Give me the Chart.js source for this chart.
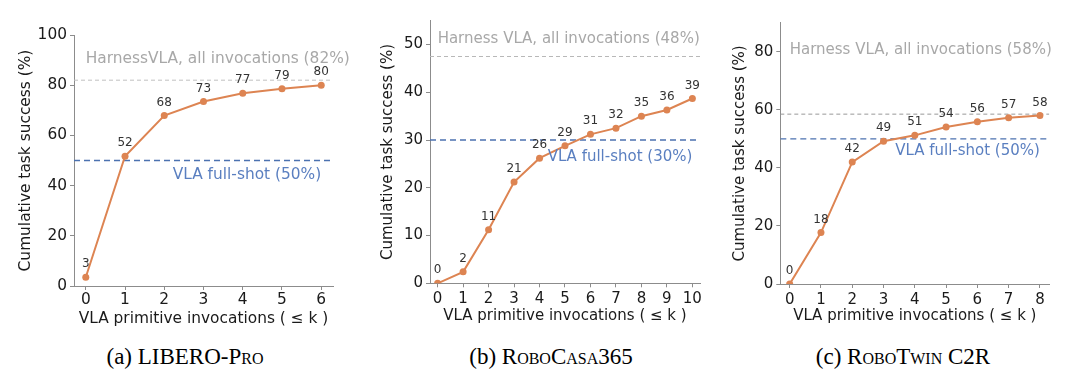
<!DOCTYPE html>
<html lang="en">
  <head>
    <meta charset="UTF-8" />
    <title>Cumulative task success vs VLA invocations</title>
    <script src="https://cdn.jsdelivr.net/npm/chart.js"></script>
    <style>
      body { margin: 0; background: #fff; width: 1080px; height: 386px; position: relative; overflow: hidden; }
      .panel { position: absolute; top: 0; }
      .caption {
        position: absolute; top: 344px; width: 300px; text-align: center;
        font-family: "Liberation Serif", "Times New Roman", serif; font-size: 23px; color: #000;
      }
      .sc { font-variant: small-caps; }
    </style>
  </head>
  <body>
    <canvas id="chartA" class="panel" width="360" height="340" style="left:0px"></canvas>
    <canvas id="chartB" class="panel" width="360" height="340" style="left:360px"></canvas>
    <canvas id="chartC" class="panel" width="360" height="340" style="left:720px"></canvas>

    <div class="caption" style="left:35px">(a) LIBERO-P<span class="sc">ro</span></div>
    <div class="caption" style="left:401px">(b) R<span class="sc">obo</span>C<span class="sc">asa</span>365</div>
    <div class="caption" style="left:753px">(c) R<span class="sc">obo</span>T<span class="sc">win</span> C2R</div>

    <script>
      // (a) LIBERO-Pro
      const liberoK = [0, 1, 2, 3, 4, 5, 6];
      const liberoSuccess = [3.5, 51.7, 67.9, 73.5, 76.8, 78.6, 80.0];
      const liberoLabels = ["3", "52", "68", "73", "77", "79", "80"];
      const liberoHarness = 82;
      const liberoFullShot = 50;
      const liberoYTicks = [0, 20, 40, 60, 80, 100];

      // (b) RoboCasa365
      const casaK = [0, 1, 2, 3, 4, 5, 6, 7, 8, 9, 10];
      const casaSuccess = [0, 2.4, 11.2, 21.2, 26.2, 28.8, 31.2, 32.5, 35.0, 36.3, 38.7];
      const casaLabels = ["0", "2", "11", "21", "26", "29", "31", "32", "35", "36", "39"];
      const casaHarness = 47.5;
      const casaFullShot = 30;
      const casaYTicks = [0, 10, 20, 30, 40, 50];

      // (c) RoboTwin C2R
      const twinK = [0, 1, 2, 3, 4, 5, 6, 7, 8];
      const twinSuccess = [0, 17.7, 42.0, 49.2, 51.2, 54.1, 55.9, 57.3, 58.0];
      const twinLabels = ["0", "18", "42", "49", "51", "54", "56", "57", "58"];
      const twinHarness = 58.5;
      const twinFullShot = 50;
      const twinYTicks = [0, 20, 40, 60, 80];

      const orange = "#dd8452";
      const blue = "#4c72b0";
      const axisGray = "#8c8c8c";
      const ink = "#1a1a1a";
      const fam = '"DejaVu Sans", sans-serif';

      // point value labels + the two text notes
      const notesPlugin = {
        id: "notes",
        afterDatasetsDraw(chart, args, opts) {
          const ctx = chart.ctx;
          const xs = chart.scales.x;
          const ys = chart.scales.y;
          ctx.save();
          ctx.font = "12px " + fam;
          ctx.fillStyle = "#333";
          ctx.textAlign = "center";
          ctx.textBaseline = "alphabetic";
          chart.getDatasetMeta(0).data.forEach((pt, i) => {
            ctx.fillText(opts.labels[i], pt.x, pt.y - 10);
          });
          opts.notes.forEach((n) => {
            ctx.font = opts.noteSize + "px " + fam;
            ctx.fillStyle = n.color;
            ctx.textAlign = n.align;
            ctx.textBaseline = "middle";
            ctx.fillText(n.text, xs.getPixelForValue(n.x), ys.getPixelForValue(n.y));
          });
          ctx.restore();
        },
      };

      function makeChart(id, p) {
        const xMin = -0.3;
        const xMax = p.k[p.k.length - 1] + 0.3;
        const pts = p.k.map((k, i) => ({ x: k, y: p.success[i] }));
        const tickFont = { family: fam, size: p.fontSize };
        new Chart(document.getElementById(id), {
          type: "line",
          data: {
            datasets: [
              {
                data: pts,
                borderColor: orange,
                backgroundColor: orange,
                borderWidth: 2,
                pointRadius: 3.5,
                pointBorderWidth: 0,
                order: 0,
              },
              {
                data: [{ x: xMin, y: p.harness }, { x: xMax, y: p.harness }],
                borderColor: p.harnessColor,
                borderWidth: 1,
                borderDash: [4, 3],
                pointRadius: 0,
                order: 1,
              },
              {
                data: [{ x: xMin, y: p.fullShot }, { x: xMax, y: p.fullShot }],
                borderColor: blue,
                borderWidth: 1.4,
                borderDash: [6, 4],
                pointRadius: 0,
                order: 1,
              },
            ],
          },
          options: {
            responsive: false,
            animation: false,
            devicePixelRatio: 1,
            layout: { padding: p.pad },
            plugins: {
              legend: { display: false },
              tooltip: { enabled: false },
              notes: {
                labels: p.labels,
                noteSize: p.fontSize,
                notes: [
                  { text: p.harnessText, x: 0, y: p.harnessTextY, color: "#a8a8a8", align: "left" },
                  { text: p.fullText, x: p.k[p.k.length - 1], y: p.fullTextY, color: "#5a7fc0", align: "right" },
                ],
              },
            },
            scales: {
              x: {
                type: "linear",
                min: xMin,
                max: xMax,
                afterBuildTicks: (s) => { s.ticks = p.k.map((v) => ({ value: v })); },
                afterFit: (s) => { s.height = p.xH; },
                grid: { drawOnChartArea: false, drawTicks: true, tickLength: 4, color: axisGray },
                border: { color: axisGray, width: 1 },
                ticks: { color: ink, font: tickFont, padding: p.xTickPad, maxRotation: 0, autoSkip: false },
                title: {
                  display: true,
                  text: "VLA primitive invocations ( \u2264 k )",
                  color: ink,
                  font: tickFont,
                  padding: 0,
                },
              },
              y: {
                min: 0,
                max: p.yMax,
                afterBuildTicks: (s) => { s.ticks = p.yTicks.map((v) => ({ value: v })); },
                afterFit: (s) => { s.width = p.yW; },
                grid: { drawOnChartArea: false, drawTicks: true, tickLength: 4, color: axisGray },
                border: { color: axisGray, width: 1 },
                ticks: { color: ink, font: tickFont, padding: 3 },
                title: {
                  display: true,
                  text: "Cumulative task success (%)",
                  color: ink,
                  font: tickFont,
                  padding: 0,
                },
              },
            },
          },
          plugins: [notesPlugin],
        });
      }

      makeChart("chartA", {
        k: liberoK, success: liberoSuccess, labels: liberoLabels, yTicks: liberoYTicks, yMax: 100,
        harness: liberoHarness, fullShot: liberoFullShot, harnessColor: "#c0c0c0",
        harnessText: "HarnessVLA, all invocations (82%)", harnessTextY: 90.4,
        fullText: "VLA full-shot (50%)", fullTextY: 44.1,
        fontSize: 15.4, pad: { left: 16.8, top: 35, right: 27, bottom: 12 }, yW: 57.2, xH: 42, xTickPad: 1,
      });

      makeChart("chartB", {
        k: casaK, success: casaSuccess, labels: casaLabels, yTicks: casaYTicks, yMax: 55,
        harness: casaHarness, fullShot: casaFullShot, harnessColor: "#b8b8b8",
        harnessText: "Harness VLA, all invocations (48%)", harnessTextY: 51.1,
        fullText: "VLA full-shot (30%)", fullTextY: 26.5,
        fontSize: 15, pad: { left: 19, top: 20.7, right: 20, bottom: 15 }, yW: 51, xH: 41.7, xTickPad: 3,
      });

      makeChart("chartC", {
        k: twinK, success: twinSuccess, labels: twinLabels, yTicks: twinYTicks, yMax: 90,
        harness: twinHarness, fullShot: twinFullShot, harnessColor: "#999999",
        harnessText: "Harness VLA, all invocations (58%)", harnessTextY: 80.6,
        fullText: "VLA full-shot (50%)", fullTextY: 45.6,
        fontSize: 15, pad: { left: 11, top: 22.7, right: 30.7, bottom: 15 }, yW: 49.3, xH: 41, xTickPad: 3,
      });
    </script>
  </body>
</html>
